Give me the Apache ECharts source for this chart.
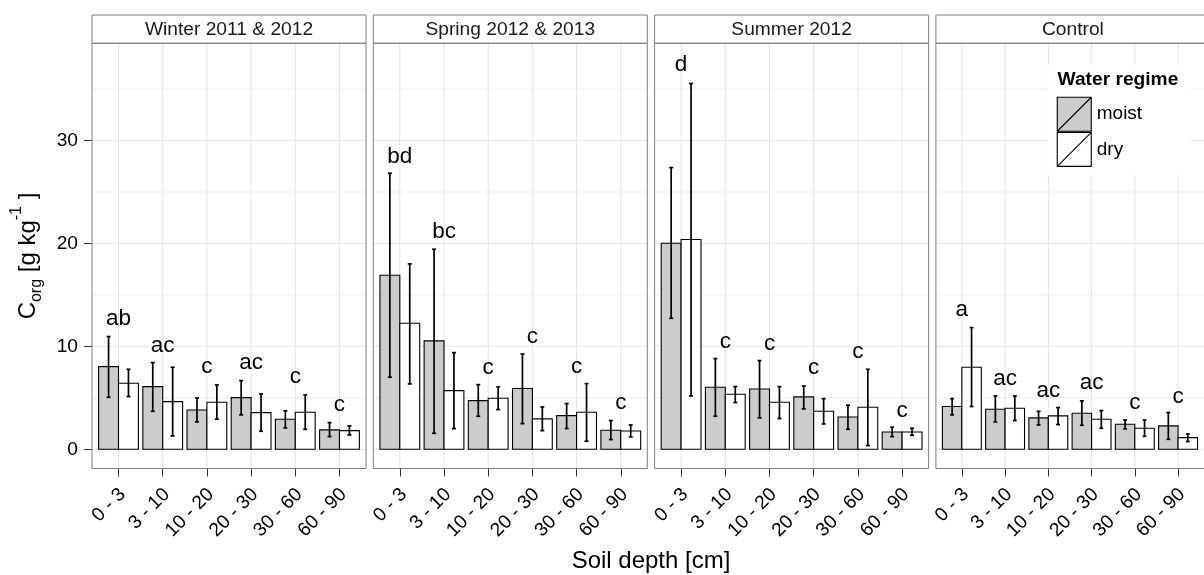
<!DOCTYPE html>
<html>
<head>
<meta charset="utf-8">
<script src="https://cdn.jsdelivr.net/npm/echarts@6/dist/echarts.min.js"></script>
<style>
  html, body { margin: 0; padding: 0; background: #fff; }
  #chart { width: 1204px; height: 575px; }
</style>
</head>
<body>
<div id="chart"></div>
<script>
// Soil depth classes (x categories) and sampling campaigns (facets)
const categories = ['0 - 3', '3 - 10', '10 - 20', '20 - 30', '30 - 60', '60 - 90'];
const panels = ['Winter 2011 & 2012', 'Spring 2012 & 2013', 'Summer 2012', 'Control'];

// Organic carbon [g/kg], one row per campaign, one value per depth class
const moistMean = [
  [8.03, 6.09, 3.82, 5.02, 2.92, 1.88],
  [16.91, 10.53, 4.73, 5.90, 3.27, 1.85],
  [20.02, 6.03, 5.86, 5.09, 3.14, 1.68],
  [4.15, 3.89, 3.05, 3.50, 2.43, 2.27]
];
const moistLow = [
  [5.05, 3.69, 2.66, 3.34, 2.07, 1.23],
  [7.00, 1.55, 3.21, 2.49, 2.01, 0.94],
  [12.73, 3.21, 3.05, 3.92, 1.94, 1.23],
  [3.34, 2.66, 2.36, 2.33, 1.98, 0.97]
];
const moistHigh = [
  [10.95, 8.42, 4.99, 6.67, 3.73, 2.59],
  [26.82, 19.44, 6.28, 9.26, 4.44, 2.79],
  [27.37, 8.81, 8.62, 6.15, 4.28, 2.14],
  [4.92, 5.18, 3.69, 4.70, 2.85, 3.56]
];
const dryMean = [
  [6.41, 4.63, 4.57, 3.56, 3.60, 1.81],
  [12.24, 5.70, 4.96, 2.95, 3.60, 1.78],
  [20.38, 5.35, 4.57, 3.69, 4.08, 1.68],
  [7.97, 3.98, 3.24, 2.92, 2.04, 1.13]
];
const dryLow = [
  [5.12, 1.30, 2.92, 1.75, 1.94, 1.39],
  [6.35, 2.01, 3.85, 1.81, 0.78, 1.20],
  [5.18, 4.54, 2.98, 2.46, 0.36, 1.36],
  [4.15, 2.79, 2.40, 2.04, 1.26, 0.75]
];
const dryHigh = [
  [7.77, 7.97, 6.25, 5.38, 5.28, 2.27],
  [18.01, 9.39, 6.06, 4.11, 6.38, 2.36],
  [35.54, 6.09, 6.09, 4.92, 7.77, 2.04],
  [11.82, 5.18, 4.05, 3.76, 2.85, 1.49]
];

// Significance letters and the height at which each is written
const letters = [
  ['ab', 'ac', 'c', 'ac', 'c', 'c'],
  ['bd', 'bc', 'c', 'c', 'c', 'c'],
  ['d', 'c', 'c', 'c', 'c', 'c'],
  ['a', 'ac', 'ac', 'ac', 'c', 'c']
];
const letterY = [
  [12.70, 10.07, 8.03, 8.42, 7.06, 4.31],
  [28.44, 21.09, 7.94, 10.95, 8.03, 4.47],
  [37.35, 10.46, 10.24, 7.87, 9.49, 3.76],
  [13.54, 6.80, 5.70, 6.41, 4.54, 5.05]
];

// Y axis ticks
const majorTicks = [0, 10, 20, 30];
const minorTicks = [5, 15, 25, 35];

// ---- layout / style ----
const FONT = '"Liberation Sans", Arial, Helvetica, sans-serif';
const PANEL_LEFT0 = 92, PANEL_STEP = 281.3, PANEL_W = 274;
const PANEL_TOP = 43.3, PANEL_H = 425.2;
const STRIP_TOP = 15;
const BAR_W = 0.45, CAP = 0.045;
const MOIST_FILL = '#cccccc', DRY_FILL = '#ffffff';
const BORDER = '#7f7f7f';

const chart = echarts.init(document.getElementById('chart'), null, { renderer: 'canvas' });

function gridRenderer(params, api) {
  const cs = params.coordSys;
  const children = [];
  minorTicks.forEach(function (v) {
    const y = api.coord([0, v])[1];
    children.push({ type: 'line', shape: { x1: cs.x, y1: y, x2: cs.x + cs.width, y2: y },
      style: { stroke: '#f2f2f2', lineWidth: 1.4 } });
  });
  majorTicks.forEach(function (v) {
    const y = api.coord([0, v])[1];
    children.push({ type: 'line', shape: { x1: cs.x, y1: y, x2: cs.x + cs.width, y2: y },
      style: { stroke: '#e4e4e4', lineWidth: 1 } });
  });
  categories.forEach(function (c, k) {
    const x = api.coord([k, 0])[0];
    children.push({ type: 'line', shape: { x1: x, y1: cs.y, x2: x, y2: cs.y + cs.height },
      style: { stroke: '#e4e4e4', lineWidth: 1 } });
  });
  return { type: 'group', children: children };
}

function barRenderer(side, fill) {
  return function (params, api) {
    const k = api.value(0), v = api.value(1), lo = api.value(2), hi = api.value(3);
    const x0 = k - BAR_W + side * BAR_W, x1 = x0 + BAR_W, xc = (x0 + x1) / 2;
    const pTop = api.coord([x0, v]), pBase = api.coord([x1, 0]);
    const pl = api.coord([xc, lo]), ph = api.coord([xc, hi]);
    const cw = api.coord([xc + CAP, 0])[0] - pl[0];
    const ebar = { stroke: '#000', lineWidth: 1.7 };
    return {
      type: 'group',
      children: [
        { type: 'rect', shape: { x: pTop[0], y: pTop[1], width: pBase[0] - pTop[0], height: pBase[1] - pTop[1] },
          style: { fill: fill, stroke: '#000', lineWidth: 1.1 } },
        { type: 'line', shape: { x1: pl[0], y1: pl[1], x2: ph[0], y2: ph[1] }, style: ebar },
        { type: 'line', shape: { x1: pl[0] - cw, y1: pl[1], x2: pl[0] + cw, y2: pl[1] }, style: ebar },
        { type: 'line', shape: { x1: ph[0] - cw, y1: ph[1], x2: ph[0] + cw, y2: ph[1] }, style: ebar }
      ]
    };
  };
}

function letterRenderer(p) {
  return function (params, api) {
    const pt = api.coord([api.value(0), api.value(1)]);
    return { type: 'text', x: pt[0], y: pt[1],
      style: { text: letters[p][params.dataIndex], align: 'center', verticalAlign: 'middle',
        fontSize: 22.5, fontFamily: FONT, fill: '#000' } };
  };
}

const grids = [], xAxes = [], yAxes = [], series = [], graphics = [];

panels.forEach(function (title, p) {
  const left = PANEL_LEFT0 + p * PANEL_STEP;
  grids.push({ left: left, top: PANEL_TOP, width: PANEL_W, height: PANEL_H,
    show: true, backgroundColor: '#fff', borderWidth: 0 });
  xAxes.push({
    gridIndex: p, type: 'value', min: -0.6, max: 5.6, position: 'bottom',
    axisLine: { show: false, onZero: false },
    axisTick: { show: true, length: 8, lineStyle: { color: '#333', width: 1 },
      customValues: categories.map(function (c, k) { return k; }) },
    axisLabel: { show: true, rotate: 45, margin: 23, fontSize: 19.2, fontFamily: FONT, color: '#000',
      customValues: categories.map(function (c, k) { return k + 0.09; }),
      formatter: function (v) { return categories[Math.round(v)] || ''; } },
    splitLine: { show: false }
  });
  yAxes.push({
    gridIndex: p, type: 'value', min: -1.87, max: 39.45, position: 'left',
    axisLine: { show: false, onZero: false },
    axisTick: { show: p === 0, length: 8, lineStyle: { color: '#333', width: 1 }, customValues: majorTicks },
    axisLabel: { show: p === 0, margin: 14, fontSize: 19.2, fontFamily: FONT, color: '#000', customValues: majorTicks },
    splitLine: { show: false }
  });

  series.push({
    type: 'custom', xAxisIndex: p, yAxisIndex: p, silent: true, z: 1,
    data: [[0, 0]], encode: { x: 0, y: 1 }, renderItem: gridRenderer
  });
  series.push({
    type: 'custom', name: 'moist', xAxisIndex: p, yAxisIndex: p, z: 2,
    itemStyle: { color: MOIST_FILL },
    data: moistMean[p].map(function (v, k) { return [k, v, moistLow[p][k], moistHigh[p][k]]; }),
    encode: { x: 0, y: [1, 2, 3] }, renderItem: barRenderer(0, MOIST_FILL)
  });
  series.push({
    type: 'custom', name: 'dry', xAxisIndex: p, yAxisIndex: p, z: 2,
    itemStyle: { color: DRY_FILL },
    data: dryMean[p].map(function (v, k) { return [k, v, dryLow[p][k], dryHigh[p][k]]; }),
    encode: { x: 0, y: [1, 2, 3] }, renderItem: barRenderer(1, DRY_FILL)
  });
  series.push({
    type: 'custom', xAxisIndex: p, yAxisIndex: p, z: 3, silent: true,
    data: letterY[p].map(function (v, k) { return [k, v]; }),
    encode: { x: 0, y: 1 }, renderItem: letterRenderer(p)
  });

  // facet strip
  graphics.push({ type: 'rect', z: 20, silent: true,
    shape: { x: left, y: STRIP_TOP, width: PANEL_W, height: PANEL_TOP - STRIP_TOP },
    style: { fill: '#fff', stroke: BORDER, lineWidth: 1 } });
  graphics.push({ type: 'text', z: 21, silent: true, x: left + PANEL_W / 2, y: (STRIP_TOP + PANEL_TOP) / 2 + 0.5,
    style: { text: title, align: 'center', verticalAlign: 'middle', fontSize: 19.2, fontFamily: FONT, fill: '#1a1a1a' } });
  // panel border
  graphics.push({ type: 'rect', z: 20, silent: true,
    shape: { x: left, y: PANEL_TOP, width: PANEL_W, height: PANEL_H },
    style: { fill: null, stroke: BORDER, lineWidth: 1 } });
});

// legend backdrop and title
graphics.push({ type: 'rect', z: 5, silent: true, shape: { x: 1048, y: 65, width: 142, height: 110 },
  style: { fill: '#fff' } });
graphics.push({ type: 'text', z: 6, silent: true, x: 1057.5, y: 80,
  style: { text: 'Water regime', align: 'left', verticalAlign: 'middle', fontSize: 19.2, fontWeight: 'bold',
    fontFamily: FONT, fill: '#000' } });

// x axis title
graphics.push({ type: 'text', z: 6, silent: true, x: 651, y: 561,
  style: { text: 'Soil depth [cm]', align: 'center', verticalAlign: 'middle', fontSize: 24, fontFamily: FONT, fill: '#000' } });

// y axis title: C_org [g kg^-1], built from pieces so sub/superscripts sit right
(function () {
  const ctx = document.createElement('canvas').getContext('2d');
  function w(text, size) { ctx.font = size + 'px ' + FONT; return ctx.measureText(text).width; }
  const pieces = [
    { t: 'C', s: 24, dy: 0 },
    { t: 'org', s: 16, dy: 8 },
    { t: ' [g kg', s: 24, dy: 0 },
    { t: '-1', s: 16, dy: -12 },
    { t: ' ]', s: 24, dy: 0 }
  ];
  const total = pieces.reduce(function (a, pc) { return a + w(pc.t, pc.s); }, 0);
  let x = -total / 2;
  const children = pieces.map(function (pc) {
    const el = { type: 'text', x: x, y: pc.dy,
      style: { text: pc.t, align: 'left', verticalAlign: 'middle', fontSize: pc.s, fontFamily: FONT, fill: '#000' } };
    x += w(pc.t, pc.s);
    return el;
  });
  graphics.push({ type: 'group', x: 28.5, y: 256, rotation: Math.PI / 2, silent: true, children: children });
})();

chart.setOption({
  animation: false,
  backgroundColor: '#fff',
  grid: grids,
  xAxis: xAxes,
  yAxis: yAxes,
  legend: {
    orient: 'vertical', left: 1056.7, top: 96.7, padding: 0, itemGap: 0,
    itemWidth: 35, itemHeight: 34, selectedMode: false, z: 10,
    textStyle: { fontSize: 19, fontFamily: FONT, color: '#000' },
    data: [
      { name: 'moist', icon: 'path://M0,0L34,0L34,34L0,34Z M0,34L34,0',
        itemStyle: { color: MOIST_FILL, borderColor: '#000', borderWidth: 1.1 } },
      { name: 'dry', icon: 'path://M0,0L34,0L34,34L0,34Z M0,34L34,0',
        itemStyle: { color: DRY_FILL, borderColor: '#000', borderWidth: 1.1 } }
    ]
  },
  graphic: { elements: graphics },
  series: series
});
</script>
</body>
</html>
